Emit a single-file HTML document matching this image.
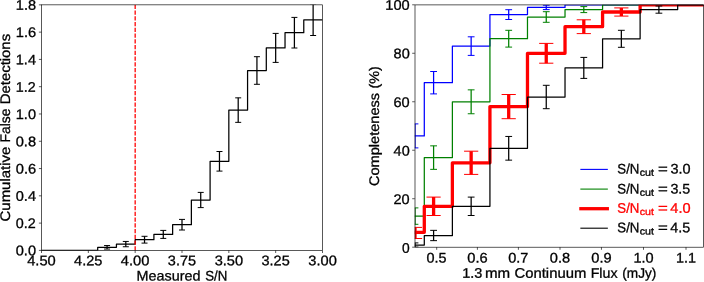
<!DOCTYPE html>
<html><head><meta charset="utf-8"><style>
html,body{margin:0;padding:0;background:#fff;}
svg{display:block;will-change:transform;}
text{font-family:"Liberation Sans",sans-serif;text-rendering:geometricPrecision;stroke-width:0.3px;}
</style></head><body>
<svg width="704" height="282" viewBox="0 0 704 282">
<rect width="704" height="282" fill="#fff"/>
<clipPath id="c1"><rect x="41.5" y="4.85" width="281.0" height="245.55"/></clipPath>
<clipPath id="c2"><rect x="414.8" y="4.8" width="288.8" height="242.39999999999998"/></clipPath>
<g clip-path="url(#c1)">
<path d="M41.50,250.40 L97.70,250.40 L97.70,247.30 L116.43,247.30 L116.43,244.10 L135.17,244.10 L135.17,239.70 L153.90,239.70 L153.90,234.40 L172.63,234.40 L172.63,224.70 L191.37,224.70 L191.37,200.00 L210.10,200.00 L210.10,161.30 L228.83,161.30 L228.83,110.10 L247.57,110.10 L247.57,70.50 L266.30,70.50 L266.30,47.90 L285.03,47.90 L285.03,32.70 L303.77,32.70 L303.77,19.90 L322.50,19.90" fill="none" stroke="#000" stroke-width="1.25" stroke-linejoin="round"/>
<line x1="107.07" y1="245.55" x2="107.07" y2="249.05" stroke="#000" stroke-width="1.25"/>
<line x1="104.07" y1="245.55" x2="110.07" y2="245.55" stroke="#000" stroke-width="1"/>
<line x1="104.07" y1="249.05" x2="110.07" y2="249.05" stroke="#000" stroke-width="1"/>
<line x1="125.80" y1="241.45" x2="125.80" y2="246.75" stroke="#000" stroke-width="1.25"/>
<line x1="122.80" y1="241.45" x2="128.80" y2="241.45" stroke="#000" stroke-width="1"/>
<line x1="122.80" y1="246.75" x2="128.80" y2="246.75" stroke="#000" stroke-width="1"/>
<line x1="144.53" y1="236.30" x2="144.53" y2="243.10" stroke="#000" stroke-width="1.25"/>
<line x1="141.53" y1="236.30" x2="147.53" y2="236.30" stroke="#000" stroke-width="1"/>
<line x1="141.53" y1="243.10" x2="147.53" y2="243.10" stroke="#000" stroke-width="1"/>
<line x1="163.27" y1="230.40" x2="163.27" y2="238.40" stroke="#000" stroke-width="1.25"/>
<line x1="160.27" y1="230.40" x2="166.27" y2="230.40" stroke="#000" stroke-width="1"/>
<line x1="160.27" y1="238.40" x2="166.27" y2="238.40" stroke="#000" stroke-width="1"/>
<line x1="182.00" y1="219.40" x2="182.00" y2="230.00" stroke="#000" stroke-width="1.25"/>
<line x1="179.00" y1="219.40" x2="185.00" y2="219.40" stroke="#000" stroke-width="1"/>
<line x1="179.00" y1="230.00" x2="185.00" y2="230.00" stroke="#000" stroke-width="1"/>
<line x1="200.73" y1="192.40" x2="200.73" y2="207.60" stroke="#000" stroke-width="1.25"/>
<line x1="197.73" y1="192.40" x2="203.73" y2="192.40" stroke="#000" stroke-width="1"/>
<line x1="197.73" y1="207.60" x2="203.73" y2="207.60" stroke="#000" stroke-width="1"/>
<line x1="219.47" y1="151.50" x2="219.47" y2="171.10" stroke="#000" stroke-width="1.25"/>
<line x1="216.47" y1="151.50" x2="222.47" y2="151.50" stroke="#000" stroke-width="1"/>
<line x1="216.47" y1="171.10" x2="222.47" y2="171.10" stroke="#000" stroke-width="1"/>
<line x1="238.20" y1="97.85" x2="238.20" y2="122.35" stroke="#000" stroke-width="1.25"/>
<line x1="235.20" y1="97.85" x2="241.20" y2="97.85" stroke="#000" stroke-width="1"/>
<line x1="235.20" y1="122.35" x2="241.20" y2="122.35" stroke="#000" stroke-width="1"/>
<line x1="256.93" y1="56.70" x2="256.93" y2="84.30" stroke="#000" stroke-width="1.25"/>
<line x1="253.93" y1="56.70" x2="259.93" y2="56.70" stroke="#000" stroke-width="1"/>
<line x1="253.93" y1="84.30" x2="259.93" y2="84.30" stroke="#000" stroke-width="1"/>
<line x1="275.67" y1="33.40" x2="275.67" y2="62.40" stroke="#000" stroke-width="1.25"/>
<line x1="272.67" y1="33.40" x2="278.67" y2="33.40" stroke="#000" stroke-width="1"/>
<line x1="272.67" y1="62.40" x2="278.67" y2="62.40" stroke="#000" stroke-width="1"/>
<line x1="294.40" y1="17.40" x2="294.40" y2="48.00" stroke="#000" stroke-width="1.25"/>
<line x1="291.40" y1="17.40" x2="297.40" y2="17.40" stroke="#000" stroke-width="1"/>
<line x1="291.40" y1="48.00" x2="297.40" y2="48.00" stroke="#000" stroke-width="1"/>
<line x1="313.13" y1="4.30" x2="313.13" y2="35.50" stroke="#000" stroke-width="1.25"/>
<line x1="310.13" y1="4.30" x2="316.13" y2="4.30" stroke="#000" stroke-width="1"/>
<line x1="310.13" y1="35.50" x2="316.13" y2="35.50" stroke="#000" stroke-width="1"/>
<line x1="135.17" y1="250.4" x2="135.17" y2="4.85" stroke="#ff0000" stroke-width="1.3" stroke-dasharray="4.2 1.55"/>
</g>
<rect x="41.5" y="4.85" width="281.0" height="245.55" fill="none" stroke="#000" stroke-width="0.65"/>
<line x1="41.50" y1="250.40" x2="41.50" y2="253.00" stroke="#000" stroke-width="0.65"/>
<text transform="rotate(0.06 41.50 261.35)" x="27.22" y="265.35" font-size="13.90" textLength="28.57" lengthAdjust="spacingAndGlyphs" fill="#000" stroke="#000">4.50</text>
<line x1="88.33" y1="250.40" x2="88.33" y2="253.00" stroke="#000" stroke-width="0.65"/>
<text transform="rotate(0.06 88.22 261.35)" x="74.05" y="265.35" font-size="13.90" textLength="28.33" lengthAdjust="spacingAndGlyphs" fill="#000" stroke="#000">4.25</text>
<line x1="135.17" y1="250.40" x2="135.17" y2="253.00" stroke="#000" stroke-width="0.65"/>
<text transform="rotate(0.06 135.17 261.35)" x="120.89" y="265.35" font-size="13.90" textLength="28.57" lengthAdjust="spacingAndGlyphs" fill="#000" stroke="#000">4.00</text>
<line x1="182.00" y1="250.40" x2="182.00" y2="253.00" stroke="#000" stroke-width="0.65"/>
<text transform="rotate(0.06 181.95 261.35)" x="167.86" y="265.35" font-size="13.90" textLength="28.18" lengthAdjust="spacingAndGlyphs" fill="#000" stroke="#000">3.75</text>
<line x1="228.83" y1="250.40" x2="228.83" y2="253.00" stroke="#000" stroke-width="0.65"/>
<text transform="rotate(0.06 228.90 261.35)" x="214.69" y="265.35" font-size="13.90" textLength="28.43" lengthAdjust="spacingAndGlyphs" fill="#000" stroke="#000">3.50</text>
<line x1="275.67" y1="250.40" x2="275.67" y2="253.00" stroke="#000" stroke-width="0.65"/>
<text transform="rotate(0.06 275.62 261.35)" x="261.53" y="265.35" font-size="13.90" textLength="28.18" lengthAdjust="spacingAndGlyphs" fill="#000" stroke="#000">3.25</text>
<line x1="322.50" y1="250.40" x2="322.50" y2="253.00" stroke="#000" stroke-width="0.65"/>
<text transform="rotate(0.06 322.57 261.35)" x="308.36" y="265.35" font-size="13.90" textLength="28.43" lengthAdjust="spacingAndGlyphs" fill="#000" stroke="#000">3.00</text>
<line x1="38.90" y1="250.40" x2="41.50" y2="250.40" stroke="#000" stroke-width="0.65"/>
<text transform="rotate(0.06 25.88 251.37)" x="15.76" y="255.37" font-size="13.90" textLength="20.24" lengthAdjust="spacingAndGlyphs" fill="#000" stroke="#000">0.0</text>
<line x1="38.90" y1="223.12" x2="41.50" y2="223.12" stroke="#000" stroke-width="0.65"/>
<text transform="rotate(0.06 25.74 224.09)" x="15.77" y="228.09" font-size="13.90" textLength="19.94" lengthAdjust="spacingAndGlyphs" fill="#000" stroke="#000">0.2</text>
<line x1="38.90" y1="195.83" x2="41.50" y2="195.83" stroke="#000" stroke-width="0.65"/>
<text transform="rotate(0.06 25.88 196.80)" x="15.76" y="200.80" font-size="13.90" textLength="20.23" lengthAdjust="spacingAndGlyphs" fill="#000" stroke="#000">0.4</text>
<line x1="38.90" y1="168.55" x2="41.50" y2="168.55" stroke="#000" stroke-width="0.65"/>
<text transform="rotate(0.06 25.94 169.52)" x="15.76" y="173.52" font-size="13.90" textLength="20.36" lengthAdjust="spacingAndGlyphs" fill="#000" stroke="#000">0.6</text>
<line x1="38.90" y1="141.27" x2="41.50" y2="141.27" stroke="#000" stroke-width="0.65"/>
<text transform="rotate(0.06 25.90 142.24)" x="15.76" y="146.24" font-size="13.90" textLength="20.28" lengthAdjust="spacingAndGlyphs" fill="#000" stroke="#000">0.8</text>
<line x1="38.90" y1="113.98" x2="41.50" y2="113.98" stroke="#000" stroke-width="0.65"/>
<text transform="rotate(0.06 25.90 114.95)" x="15.80" y="118.95" font-size="13.90" textLength="20.20" lengthAdjust="spacingAndGlyphs" fill="#000" stroke="#000">1.0</text>
<line x1="38.90" y1="86.70" x2="41.50" y2="86.70" stroke="#000" stroke-width="0.65"/>
<text transform="rotate(0.06 25.76 87.67)" x="15.82" y="91.67" font-size="13.90" textLength="19.89" lengthAdjust="spacingAndGlyphs" fill="#000" stroke="#000">1.2</text>
<line x1="38.90" y1="59.42" x2="41.50" y2="59.42" stroke="#000" stroke-width="0.65"/>
<text transform="rotate(0.06 25.89 60.39)" x="15.80" y="64.39" font-size="13.90" textLength="20.19" lengthAdjust="spacingAndGlyphs" fill="#000" stroke="#000">1.4</text>
<line x1="38.90" y1="32.13" x2="41.50" y2="32.13" stroke="#000" stroke-width="0.65"/>
<text transform="rotate(0.06 25.95 33.10)" x="15.79" y="37.10" font-size="13.90" textLength="20.33" lengthAdjust="spacingAndGlyphs" fill="#000" stroke="#000">1.6</text>
<line x1="38.90" y1="4.85" x2="41.50" y2="4.85" stroke="#000" stroke-width="0.65"/>
<text transform="rotate(0.06 25.92 5.82)" x="15.80" y="9.82" font-size="13.90" textLength="20.24" lengthAdjust="spacingAndGlyphs" fill="#000" stroke="#000">1.8</text>
<text transform="rotate(0.06 168.58 276.60)" x="136.62" y="280.60" font-size="13.90" textLength="63.91" lengthAdjust="spacingAndGlyphs" fill="#000" stroke="#000">Measured</text>
<text transform="rotate(0.06 216.25 276.60)" x="205.22" y="280.60" font-size="13.90" textLength="22.06" lengthAdjust="spacingAndGlyphs" fill="#000" stroke="#000">S/N</text>
<text transform="translate(10.00,221.45) rotate(-90)" x="-0.02" y="0" font-size="13.90" textLength="74.76" lengthAdjust="spacingAndGlyphs" fill="#000" stroke="#000">Cumulative</text>
<text transform="translate(10.00,142.52) rotate(-90)" x="0.15" y="0" font-size="13.90" textLength="33.85" lengthAdjust="spacingAndGlyphs" fill="#000" stroke="#000">False</text>
<text transform="translate(10.00,104.27) rotate(-90)" x="0.07" y="0" font-size="13.90" textLength="70.30" lengthAdjust="spacingAndGlyphs" fill="#000" stroke="#000">Detections</text>
<g clip-path="url(#c2)">
<path d="M395.00,135.90 L424.30,135.90 L424.30,82.70 L452.38,82.70 L452.38,46.10 L489.93,46.10 L489.93,14.60 L527.48,14.60 L527.48,7.40 L565.02,7.40 L565.02,4.80 L602.58,4.80 L602.58,4.80 L640.12,4.80 L640.12,4.80 L677.67,4.80 L677.67,4.80 L713.60,4.80" fill="none" stroke="#0000ff" stroke-width="1.25" stroke-linejoin="round"/>
<line x1="415.00" y1="123.90" x2="415.00" y2="147.90" stroke="#0000ff" stroke-width="1.25"/>
<line x1="411.60" y1="123.90" x2="418.40" y2="123.90" stroke="#0000ff" stroke-width="1.0"/>
<line x1="411.60" y1="147.90" x2="418.40" y2="147.90" stroke="#0000ff" stroke-width="1.0"/>
<line x1="433.60" y1="71.50" x2="433.60" y2="93.90" stroke="#0000ff" stroke-width="1.25"/>
<line x1="430.20" y1="71.50" x2="437.00" y2="71.50" stroke="#0000ff" stroke-width="1.0"/>
<line x1="430.20" y1="93.90" x2="437.00" y2="93.90" stroke="#0000ff" stroke-width="1.0"/>
<line x1="471.15" y1="36.80" x2="471.15" y2="55.40" stroke="#0000ff" stroke-width="1.25"/>
<line x1="467.75" y1="36.80" x2="474.55" y2="36.80" stroke="#0000ff" stroke-width="1.0"/>
<line x1="467.75" y1="55.40" x2="474.55" y2="55.40" stroke="#0000ff" stroke-width="1.0"/>
<line x1="508.70" y1="9.70" x2="508.70" y2="19.50" stroke="#0000ff" stroke-width="1.25"/>
<line x1="505.30" y1="9.70" x2="512.10" y2="9.70" stroke="#0000ff" stroke-width="1.0"/>
<line x1="505.30" y1="19.50" x2="512.10" y2="19.50" stroke="#0000ff" stroke-width="1.0"/>
<line x1="546.25" y1="5.20" x2="546.25" y2="9.60" stroke="#0000ff" stroke-width="1.25"/>
<line x1="542.85" y1="5.20" x2="549.65" y2="5.20" stroke="#0000ff" stroke-width="1.0"/>
<line x1="542.85" y1="9.60" x2="549.65" y2="9.60" stroke="#0000ff" stroke-width="1.0"/>
<path d="M395.00,216.10 L424.30,216.10 L424.30,157.60 L452.38,157.60 L452.38,101.80 L489.93,101.80 L489.93,38.70 L527.48,38.70 L527.48,17.00 L565.02,17.00 L565.02,9.60 L602.58,9.60 L602.58,4.80 L640.12,4.80 L640.12,4.80 L677.67,4.80 L677.67,4.80 L713.60,4.80" fill="none" stroke="#008000" stroke-width="1.25" stroke-linejoin="round"/>
<line x1="415.00" y1="207.90" x2="415.00" y2="224.30" stroke="#008000" stroke-width="1.25"/>
<line x1="411.60" y1="207.90" x2="418.40" y2="207.90" stroke="#008000" stroke-width="1.0"/>
<line x1="411.60" y1="224.30" x2="418.40" y2="224.30" stroke="#008000" stroke-width="1.0"/>
<line x1="433.60" y1="145.85" x2="433.60" y2="169.35" stroke="#008000" stroke-width="1.25"/>
<line x1="430.20" y1="145.85" x2="437.00" y2="145.85" stroke="#008000" stroke-width="1.0"/>
<line x1="430.20" y1="169.35" x2="437.00" y2="169.35" stroke="#008000" stroke-width="1.0"/>
<line x1="471.15" y1="89.85" x2="471.15" y2="113.75" stroke="#008000" stroke-width="1.25"/>
<line x1="467.75" y1="89.85" x2="474.55" y2="89.85" stroke="#008000" stroke-width="1.0"/>
<line x1="467.75" y1="113.75" x2="474.55" y2="113.75" stroke="#008000" stroke-width="1.0"/>
<line x1="508.70" y1="30.30" x2="508.70" y2="47.10" stroke="#008000" stroke-width="1.25"/>
<line x1="505.30" y1="30.30" x2="512.10" y2="30.30" stroke="#008000" stroke-width="1.0"/>
<line x1="505.30" y1="47.10" x2="512.10" y2="47.10" stroke="#008000" stroke-width="1.0"/>
<line x1="546.25" y1="11.70" x2="546.25" y2="22.30" stroke="#008000" stroke-width="1.25"/>
<line x1="542.85" y1="11.70" x2="549.65" y2="11.70" stroke="#008000" stroke-width="1.0"/>
<line x1="542.85" y1="22.30" x2="549.65" y2="22.30" stroke="#008000" stroke-width="1.0"/>
<line x1="583.80" y1="6.60" x2="583.80" y2="12.60" stroke="#008000" stroke-width="1.25"/>
<line x1="580.40" y1="6.60" x2="587.20" y2="6.60" stroke="#008000" stroke-width="1.0"/>
<line x1="580.40" y1="12.60" x2="587.20" y2="12.60" stroke="#008000" stroke-width="1.0"/>
<path d="M395.00,232.30 L424.30,232.30 L424.30,206.30 L452.38,206.30 L452.38,162.80 L489.93,162.80 L489.93,106.60 L527.48,106.60 L527.48,53.30 L565.02,53.30 L565.02,26.70 L602.58,26.70 L602.58,12.00 L640.12,12.00 L640.12,4.80 L677.67,4.80 L677.67,4.80 L713.60,4.80" fill="none" stroke="#ff0000" stroke-width="3.3" stroke-linejoin="round"/>
<line x1="415.00" y1="227.40" x2="415.00" y2="238.50" stroke="#ff0000" stroke-width="3.3"/>
<line x1="407.90" y1="227.40" x2="422.10" y2="227.40" stroke="#ff0000" stroke-width="1.0"/>
<line x1="407.90" y1="238.50" x2="422.10" y2="238.50" stroke="#ff0000" stroke-width="1.0"/>
<line x1="433.60" y1="197.10" x2="433.60" y2="215.50" stroke="#ff0000" stroke-width="3.3"/>
<line x1="426.50" y1="197.10" x2="440.70" y2="197.10" stroke="#ff0000" stroke-width="1.0"/>
<line x1="426.50" y1="215.50" x2="440.70" y2="215.50" stroke="#ff0000" stroke-width="1.0"/>
<line x1="471.15" y1="151.20" x2="471.15" y2="174.40" stroke="#ff0000" stroke-width="3.3"/>
<line x1="464.05" y1="151.20" x2="478.25" y2="151.20" stroke="#ff0000" stroke-width="1.0"/>
<line x1="464.05" y1="174.40" x2="478.25" y2="174.40" stroke="#ff0000" stroke-width="1.0"/>
<line x1="508.70" y1="94.50" x2="508.70" y2="118.70" stroke="#ff0000" stroke-width="3.3"/>
<line x1="501.60" y1="94.50" x2="515.80" y2="94.50" stroke="#ff0000" stroke-width="1.0"/>
<line x1="501.60" y1="118.70" x2="515.80" y2="118.70" stroke="#ff0000" stroke-width="1.0"/>
<line x1="546.25" y1="43.40" x2="546.25" y2="63.20" stroke="#ff0000" stroke-width="3.3"/>
<line x1="539.15" y1="43.40" x2="553.35" y2="43.40" stroke="#ff0000" stroke-width="1.0"/>
<line x1="539.15" y1="63.20" x2="553.35" y2="63.20" stroke="#ff0000" stroke-width="1.0"/>
<line x1="583.80" y1="19.80" x2="583.80" y2="33.60" stroke="#ff0000" stroke-width="3.3"/>
<line x1="576.70" y1="19.80" x2="590.90" y2="19.80" stroke="#ff0000" stroke-width="1.0"/>
<line x1="576.70" y1="33.60" x2="590.90" y2="33.60" stroke="#ff0000" stroke-width="1.0"/>
<line x1="621.35" y1="7.90" x2="621.35" y2="16.10" stroke="#ff0000" stroke-width="3.3"/>
<line x1="614.25" y1="7.90" x2="628.45" y2="7.90" stroke="#ff0000" stroke-width="1.0"/>
<line x1="614.25" y1="16.10" x2="628.45" y2="16.10" stroke="#ff0000" stroke-width="1.0"/>
<path d="M395.00,245.00 L424.30,245.00 L424.30,235.50 L452.38,235.50 L452.38,206.30 L489.93,206.30 L489.93,148.30 L527.48,148.30 L527.48,97.00 L565.02,97.00 L565.02,67.90 L602.58,67.90 L602.58,38.80 L640.12,38.80 L640.12,9.60 L677.67,9.60 L677.67,4.80 L713.60,4.80" fill="none" stroke="#000000" stroke-width="1.25" stroke-linejoin="round"/>
<line x1="415.00" y1="242.90" x2="415.00" y2="247.10" stroke="#000000" stroke-width="1.25"/>
<line x1="411.60" y1="242.90" x2="418.40" y2="242.90" stroke="#000000" stroke-width="1.0"/>
<line x1="411.60" y1="247.10" x2="418.40" y2="247.10" stroke="#000000" stroke-width="1.0"/>
<line x1="433.60" y1="230.35" x2="433.60" y2="240.65" stroke="#000000" stroke-width="1.25"/>
<line x1="430.20" y1="230.35" x2="437.00" y2="230.35" stroke="#000000" stroke-width="1.0"/>
<line x1="430.20" y1="240.65" x2="437.00" y2="240.65" stroke="#000000" stroke-width="1.0"/>
<line x1="471.15" y1="197.10" x2="471.15" y2="215.50" stroke="#000000" stroke-width="1.25"/>
<line x1="467.75" y1="197.10" x2="474.55" y2="197.10" stroke="#000000" stroke-width="1.0"/>
<line x1="467.75" y1="215.50" x2="474.55" y2="215.50" stroke="#000000" stroke-width="1.0"/>
<line x1="508.70" y1="136.45" x2="508.70" y2="160.15" stroke="#000000" stroke-width="1.25"/>
<line x1="505.30" y1="136.45" x2="512.10" y2="136.45" stroke="#000000" stroke-width="1.0"/>
<line x1="505.30" y1="160.15" x2="512.10" y2="160.15" stroke="#000000" stroke-width="1.0"/>
<line x1="546.25" y1="85.30" x2="546.25" y2="108.70" stroke="#000000" stroke-width="1.25"/>
<line x1="542.85" y1="85.30" x2="549.65" y2="85.30" stroke="#000000" stroke-width="1.0"/>
<line x1="542.85" y1="108.70" x2="549.65" y2="108.70" stroke="#000000" stroke-width="1.0"/>
<line x1="583.80" y1="57.40" x2="583.80" y2="78.40" stroke="#000000" stroke-width="1.25"/>
<line x1="580.40" y1="57.40" x2="587.20" y2="57.40" stroke="#000000" stroke-width="1.0"/>
<line x1="580.40" y1="78.40" x2="587.20" y2="78.40" stroke="#000000" stroke-width="1.0"/>
<line x1="621.35" y1="30.30" x2="621.35" y2="47.30" stroke="#000000" stroke-width="1.25"/>
<line x1="617.95" y1="30.30" x2="624.75" y2="30.30" stroke="#000000" stroke-width="1.0"/>
<line x1="617.95" y1="47.30" x2="624.75" y2="47.30" stroke="#000000" stroke-width="1.0"/>
<line x1="658.90" y1="6.00" x2="658.90" y2="13.20" stroke="#000000" stroke-width="1.25"/>
<line x1="655.50" y1="6.00" x2="662.30" y2="6.00" stroke="#000000" stroke-width="1.0"/>
<line x1="655.50" y1="13.20" x2="662.30" y2="13.20" stroke="#000000" stroke-width="1.0"/>
</g>
<rect x="415.0" y="4.9" width="288.5" height="242.29999999999998" fill="none" stroke="#000" stroke-width="0.65"/>
<line x1="436.70" y1="247.20" x2="436.70" y2="249.80" stroke="#000" stroke-width="0.65"/>
<text transform="rotate(0.06 436.58 258.45)" x="426.59" y="262.45" font-size="13.90" textLength="19.99" lengthAdjust="spacingAndGlyphs" fill="#000" stroke="#000">0.5</text>
<line x1="477.40" y1="247.20" x2="477.40" y2="249.80" stroke="#000" stroke-width="0.65"/>
<text transform="rotate(0.06 477.45 258.45)" x="467.27" y="262.45" font-size="13.90" textLength="20.36" lengthAdjust="spacingAndGlyphs" fill="#000" stroke="#000">0.6</text>
<line x1="518.40" y1="247.20" x2="518.40" y2="249.80" stroke="#000" stroke-width="0.65"/>
<text transform="rotate(0.06 518.35 258.45)" x="508.28" y="262.45" font-size="13.90" textLength="20.15" lengthAdjust="spacingAndGlyphs" fill="#000" stroke="#000">0.7</text>
<line x1="560.00" y1="247.20" x2="560.00" y2="249.80" stroke="#000" stroke-width="0.65"/>
<text transform="rotate(0.06 560.02 258.45)" x="549.88" y="262.45" font-size="13.90" textLength="20.28" lengthAdjust="spacingAndGlyphs" fill="#000" stroke="#000">0.8</text>
<line x1="601.45" y1="247.20" x2="601.45" y2="249.80" stroke="#000" stroke-width="0.65"/>
<text transform="rotate(0.06 601.48 258.45)" x="591.33" y="262.45" font-size="13.90" textLength="20.31" lengthAdjust="spacingAndGlyphs" fill="#000" stroke="#000">0.9</text>
<line x1="643.50" y1="247.20" x2="643.50" y2="249.80" stroke="#000" stroke-width="0.65"/>
<text transform="rotate(0.06 643.52 258.45)" x="633.42" y="262.45" font-size="13.90" textLength="20.20" lengthAdjust="spacingAndGlyphs" fill="#000" stroke="#000">1.0</text>
<line x1="686.00" y1="247.20" x2="686.00" y2="249.80" stroke="#000" stroke-width="0.65"/>
<text transform="rotate(0.06 685.92 258.45)" x="675.93" y="262.45" font-size="13.90" textLength="19.98" lengthAdjust="spacingAndGlyphs" fill="#000" stroke="#000">1.1</text>
<line x1="412.20" y1="247.20" x2="414.80" y2="247.20" stroke="#000" stroke-width="0.65"/>
<text transform="rotate(0.06 405.83 248.67)" x="401.99" y="252.67" font-size="13.90" textLength="7.68" lengthAdjust="spacingAndGlyphs" fill="#000" stroke="#000">0</text>
<line x1="412.20" y1="198.72" x2="414.80" y2="198.72" stroke="#000" stroke-width="0.65"/>
<text transform="rotate(0.06 401.63 200.08)" x="393.56" y="204.08" font-size="13.90" textLength="16.14" lengthAdjust="spacingAndGlyphs" fill="#000" stroke="#000">20</text>
<line x1="412.20" y1="150.24" x2="414.80" y2="150.24" stroke="#000" stroke-width="0.65"/>
<text transform="rotate(0.06 401.67 151.49)" x="393.64" y="155.49" font-size="13.90" textLength="16.05" lengthAdjust="spacingAndGlyphs" fill="#000" stroke="#000">40</text>
<line x1="412.20" y1="101.76" x2="414.80" y2="101.76" stroke="#000" stroke-width="0.65"/>
<text transform="rotate(0.06 401.60 102.90)" x="393.51" y="106.90" font-size="13.90" textLength="16.19" lengthAdjust="spacingAndGlyphs" fill="#000" stroke="#000">60</text>
<line x1="412.20" y1="53.28" x2="414.80" y2="53.28" stroke="#000" stroke-width="0.65"/>
<text transform="rotate(0.06 401.64 54.31)" x="393.59" y="58.31" font-size="13.90" textLength="16.11" lengthAdjust="spacingAndGlyphs" fill="#000" stroke="#000">80</text>
<line x1="412.20" y1="4.80" x2="414.80" y2="4.80" stroke="#000" stroke-width="0.65"/>
<text transform="rotate(0.06 397.51 5.72)" x="385.32" y="9.72" font-size="13.90" textLength="24.38" lengthAdjust="spacingAndGlyphs" fill="#000" stroke="#000">100</text>
<text transform="rotate(0.06 472.19 273.80)" x="462.15" y="277.80" font-size="13.90" textLength="20.08" lengthAdjust="spacingAndGlyphs" fill="#000" stroke="#000">1.3</text>
<text transform="rotate(0.06 497.63 273.80)" x="485.02" y="277.80" font-size="13.90" textLength="25.22" lengthAdjust="spacingAndGlyphs" fill="#000" stroke="#000">mm</text>
<text transform="rotate(0.06 550.40 273.80)" x="514.50" y="277.80" font-size="13.90" textLength="71.79" lengthAdjust="spacingAndGlyphs" fill="#000" stroke="#000">Continuum</text>
<text transform="rotate(0.06 604.13 273.80)" x="590.71" y="277.80" font-size="13.90" textLength="26.83" lengthAdjust="spacingAndGlyphs" fill="#000" stroke="#000">Flux</text>
<text transform="rotate(0.06 639.29 273.80)" x="622.27" y="277.80" font-size="13.90" textLength="34.04" lengthAdjust="spacingAndGlyphs" fill="#000" stroke="#000">(mJy)</text>
<text transform="translate(379.40,185.99) rotate(-90)" x="-0.00" y="0" font-size="13.90" textLength="93.04" lengthAdjust="spacingAndGlyphs" fill="#000" stroke="#000">Completeness</text>
<text transform="translate(379.40,88.68) rotate(-90)" x="0.24" y="0" font-size="13.90" textLength="22.19" lengthAdjust="spacingAndGlyphs" fill="#000" stroke="#000">(%)</text>
<line x1="580.9" y1="169.4" x2="607.3" y2="169.4" stroke="#0000ff" stroke-width="1.1" stroke-linecap="square"/>
<text transform="rotate(0.06 628.39 169.60)" x="617.36" y="173.60" font-size="13.90" textLength="22.06" lengthAdjust="spacingAndGlyphs" fill="#000" stroke="#000">S/N</text>
<text transform="rotate(0.06 646.81 171.80)" x="639.68" y="175.80" font-size="9.73" textLength="14.26" lengthAdjust="spacingAndGlyphs" fill="#000" stroke="#000">cut</text>
<text transform="rotate(0.06 662.99 169.60)" x="658.06" y="173.60" font-size="13.90" textLength="9.86" lengthAdjust="spacingAndGlyphs" fill="#000" stroke="#000">=</text>
<text transform="rotate(0.06 680.49 169.60)" x="670.45" y="173.60" font-size="13.90" textLength="20.08" lengthAdjust="spacingAndGlyphs" fill="#000" stroke="#000">3.0</text>
<line x1="580.9" y1="189.1" x2="607.3" y2="189.1" stroke="#008000" stroke-width="1.1" stroke-linecap="square"/>
<text transform="rotate(0.06 628.39 189.50)" x="617.36" y="193.50" font-size="13.90" textLength="22.06" lengthAdjust="spacingAndGlyphs" fill="#000" stroke="#000">S/N</text>
<text transform="rotate(0.06 646.81 191.70)" x="639.68" y="195.70" font-size="9.73" textLength="14.26" lengthAdjust="spacingAndGlyphs" fill="#000" stroke="#000">cut</text>
<text transform="rotate(0.06 662.99 189.50)" x="658.06" y="193.50" font-size="13.90" textLength="9.86" lengthAdjust="spacingAndGlyphs" fill="#000" stroke="#000">=</text>
<text transform="rotate(0.06 680.37 189.50)" x="670.45" y="193.50" font-size="13.90" textLength="19.83" lengthAdjust="spacingAndGlyphs" fill="#000" stroke="#000">3.5</text>
<line x1="580.9" y1="208.7" x2="607.3" y2="208.7" stroke="#ff0000" stroke-width="3.3" stroke-linecap="square"/>
<text transform="rotate(0.06 628.39 208.70)" x="617.36" y="212.70" font-size="13.90" textLength="22.06" lengthAdjust="spacingAndGlyphs" fill="#ff0000" stroke="#ff0000">S/N</text>
<text transform="rotate(0.06 646.81 210.90)" x="639.68" y="214.90" font-size="9.73" textLength="14.26" lengthAdjust="spacingAndGlyphs" fill="#ff0000" stroke="#ff0000">cut</text>
<text transform="rotate(0.06 662.99 208.70)" x="658.06" y="212.70" font-size="13.90" textLength="9.86" lengthAdjust="spacingAndGlyphs" fill="#ff0000" stroke="#ff0000">=</text>
<text transform="rotate(0.06 680.42 208.70)" x="670.31" y="212.70" font-size="13.90" textLength="20.23" lengthAdjust="spacingAndGlyphs" fill="#ff0000" stroke="#ff0000">4.0</text>
<line x1="580.9" y1="228.2" x2="607.3" y2="228.2" stroke="#000000" stroke-width="1.1" stroke-linecap="square"/>
<text transform="rotate(0.06 628.39 228.30)" x="617.36" y="232.30" font-size="13.90" textLength="22.06" lengthAdjust="spacingAndGlyphs" fill="#000" stroke="#000">S/N</text>
<text transform="rotate(0.06 646.81 230.50)" x="639.68" y="234.50" font-size="9.73" textLength="14.26" lengthAdjust="spacingAndGlyphs" fill="#000" stroke="#000">cut</text>
<text transform="rotate(0.06 662.99 228.30)" x="658.06" y="232.30" font-size="13.90" textLength="9.86" lengthAdjust="spacingAndGlyphs" fill="#000" stroke="#000">=</text>
<text transform="rotate(0.06 680.30 228.30)" x="670.31" y="232.30" font-size="13.90" textLength="19.98" lengthAdjust="spacingAndGlyphs" fill="#000" stroke="#000">4.5</text>
</svg>
</body></html>
